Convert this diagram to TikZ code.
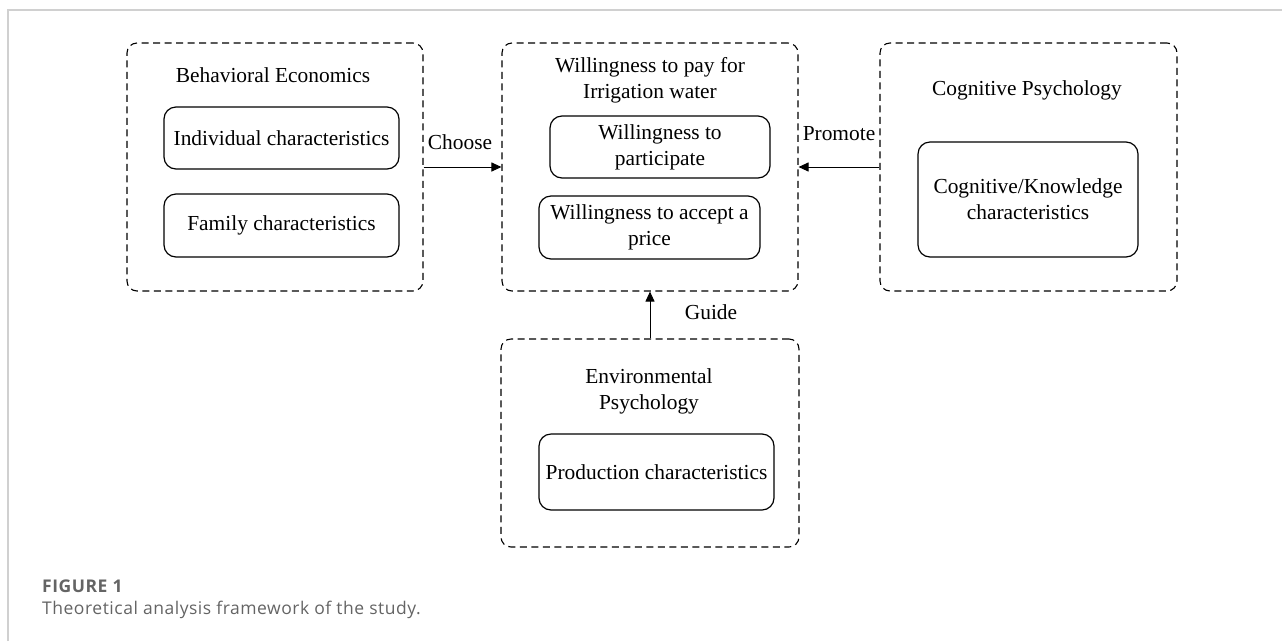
\documentclass[tikz,border=0pt]{standalone}
\usepackage{fontspec}
\setmainfont{Liberation Serif}
\newfontfamily\capfont[LetterSpace=3]{Open Sans}
\usetikzlibrary{arrows.meta}
\definecolor{framegray}{RGB}{208,208,208}
\definecolor{capgray}{RGB}{100,100,100}
\tikzset{
  outerbox/.style={draw, dashed, dash pattern=on 7pt off 4.5pt, line width=1.1pt, rounded corners=10pt, minimum width=#1},
  innerbox/.style={draw, line width=1.2pt, rounded corners=12pt, align=center, inner sep=2pt},
  label/.style={font=\fontsize{21.4}{26}\selectfont, align=center, inner sep=0pt},
  conn/.style={line width=1pt, -{Triangle[length=10pt,width=9pt]}},
  captext/.style={anchor=base west, inner sep=0pt, text=capgray},
}
\begin{document}
\begin{tikzpicture}[x=1pt,y=-1pt]
\useasboundingbox (0,0) rectangle (1282,641);
% frame
\draw[framegray, line width=1.5pt] (8,641) -- (8,10) -- (1282,10);
% outer boxes
\node[outerbox=296pt, minimum height=248pt] (be) at (275,167) {};
\node[outerbox=296pt, minimum height=248pt] (wtp) at (650,167) {};
\node[outerbox=297pt, minimum height=248pt] (cp) at (1028.5,167) {};
\node[outerbox=298pt, minimum height=208pt] (ep) at (650,443) {};
% titles
\node[label] (bet) at (273,75) {Behavioral Economics};
\node[label] (wtpt) at (650,80) {Willingness to pay for\\Irrigation water};
\node[label] (cpt) at (1027,90) {Cognitive Psychology};
\node[label] (ept) at (649,391) {Environmental\\Psychology};
% inner boxes
\node[innerbox, label, minimum width=235pt, minimum height=62pt] (ind) at (281.5,138) {Individual characteristics};
\node[innerbox, label, minimum width=235pt, minimum height=63pt] (fam) at (281.5,225.5) {Family characteristics};
\node[innerbox, label, minimum width=220pt, minimum height=62pt] (part) at (660,147) {Willingness to\\participate};
\node[innerbox, label, minimum width=221pt, minimum height=63pt] (acc) at (649.5,227.5) {Willingness to accept a\\price};
\node[innerbox, label, minimum width=220pt, minimum height=115pt] (cog) at (1028,199.5) {Cognitive/Knowledge\\characteristics};
\node[innerbox, label, minimum width=235pt, minimum height=76pt] (prod) at (656.5,472) {Production characteristics};
% connectors
\draw[conn] (be.east) -- (wtp.west);
\draw[conn] (cp.west) -- (wtp.east);
\draw[conn] (ep.north) -- (ep.north |- wtp.south);
\node[label] (choose) at (460,142) {Choose};
\node[label] (promote) at (839,134) {Promote};
\node[label] (guide) at (711,312) {Guide};
% caption
\node[captext, font=\capfont\bfseries\fontsize{17.5}{20}\selectfont] (fig) at (42,592) {FIGURE 1};
\node[captext, font=\capfont\fontsize{17.5}{20}\selectfont] (cap) at (42,614) {Theoretical analysis framework of the study.};
\end{tikzpicture}
\end{document}
